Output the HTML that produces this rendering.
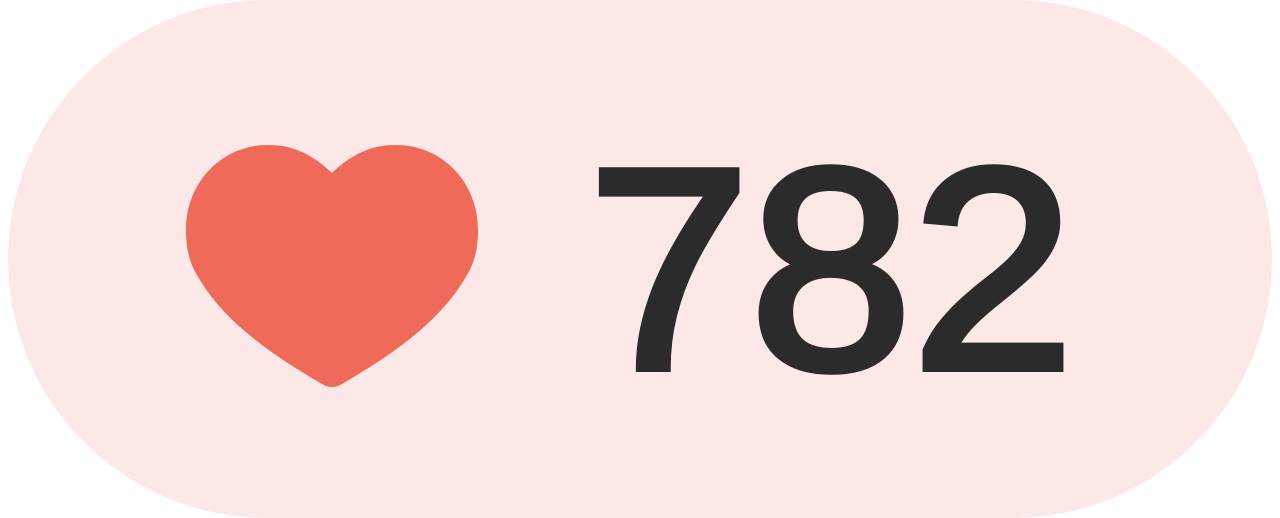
<!DOCTYPE html>
<html>
<head>
<meta charset="utf-8">
<style>
  html,body{margin:0;padding:0;background:#ffffff;}
  body{width:1280px;height:518px;overflow:hidden;}
  svg{display:block;}
</style>
</head>
<body>
<svg width="1280" height="518" viewBox="0 0 1280 518">
  <rect x="8" y="0" width="1264" height="518" rx="259" ry="259" fill="#fce8e7"/>
  <path fill="#ef6a58"
    d="M332,173 C310,152 290,145 268,145 C222,145 186,182 186,230 C186,250 190,265 200,280 C230,330 290,365 322,384 C328,388 336,388 342,384 C374,365 434,330 464,280 C474,265 478,250 478,230 C478,182 442,145 396,145 C374,145 354,152 332,173 Z"/>
  <text x="588" y="368" font-family="'Liberation Sans', sans-serif" font-size="286" fill="#2b2b2b" stroke="#2b2b2b" stroke-width="8" stroke-linejoin="miter" textLength="486" lengthAdjust="spacingAndGlyphs">782</text>
</svg>
</body>
</html>
